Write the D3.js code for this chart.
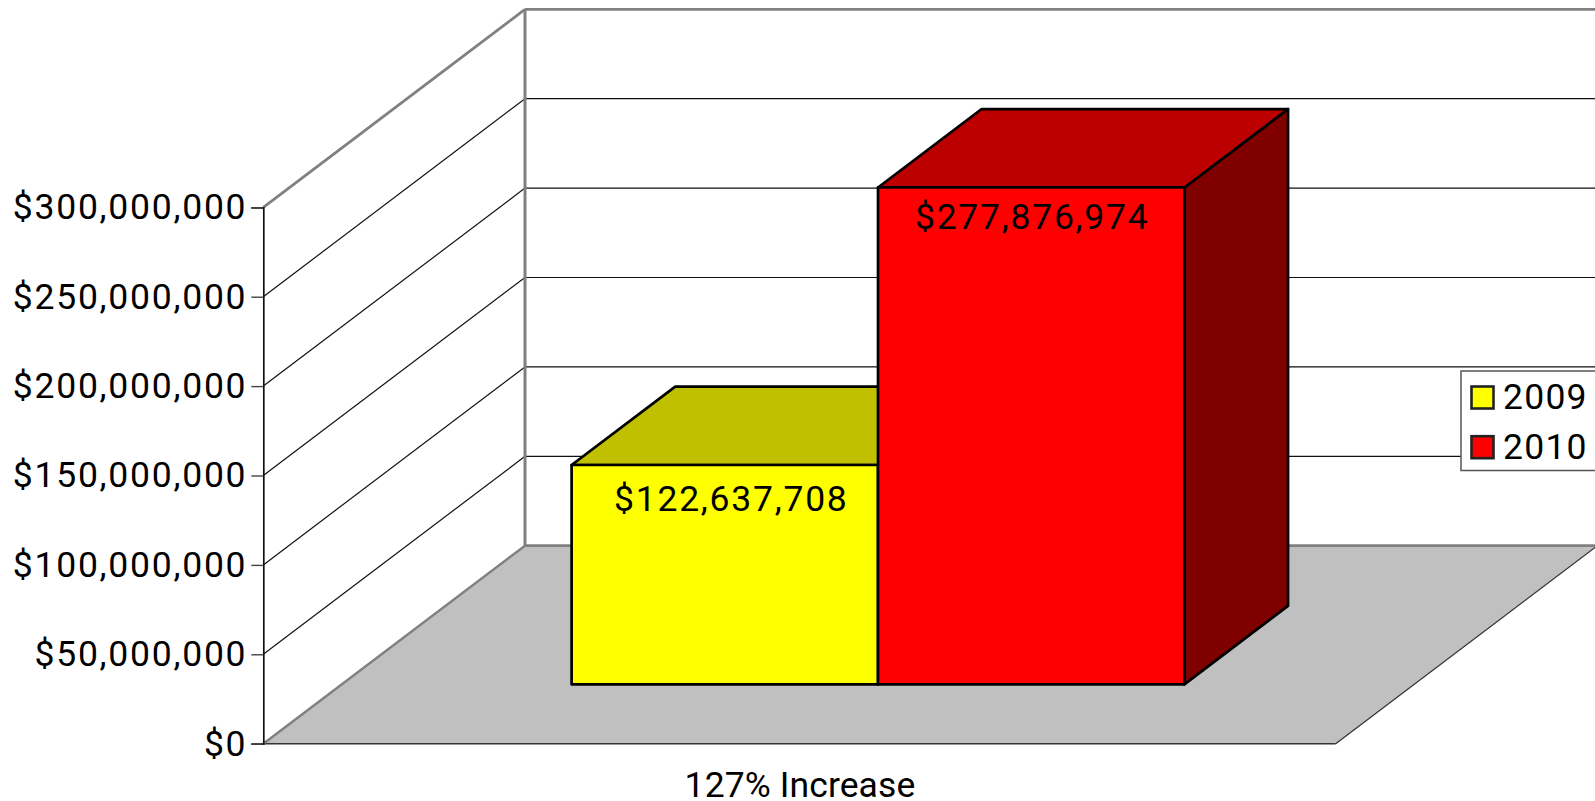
<!DOCTYPE html>
<html>
<head>
<meta charset="utf-8">
<script src="https://cdn.jsdelivr.net/npm/d3@7/dist/d3.min.js"></script>
<style>
html,body{margin:0;padding:0;background:#fff;overflow:hidden}
svg{display:block}
text{font-family:"Roboto",sans-serif;font-size:35.5px;fill:#000;letter-spacing:1.75px}
text.cat{letter-spacing:0.1px}
text.leg{letter-spacing:1.25px}
</style>
</head>
<body>
<script>
const categories = ["127% Increase"];
const seriesNames = ["2009", "2010"];
const seriesValues = [122637708, 277876974];
const valueLabels = ["$122,637,708", "$277,876,974"];
const axisTicks = [0, 50000000, 100000000, 150000000, 200000000, 250000000, 300000000];
const frontColors = ["#ffff00", "#ff0000"];
const topColors = ["#c0c000", "#bc0000"];
const sideColors = ["#808000", "#800000"];

const W = 1595, H = 801;
const x0 = 263.3, x1 = 1335.7;
const depthX = 261.7, depthY = -198;

const svg = d3.select("body").append("svg").attr("width", W).attr("height", H);
const y = d3.scaleLinear().domain([0, 300000000]).range([743.7, 207.3]);
const x = d3.scaleBand().domain(seriesNames).range([x0, x1]).paddingInner(0).paddingOuter(0.75);
const zx = d3.scaleLinear().domain([0, 1]).range([0, depthX]);
const zy = d3.scaleLinear().domain([0, 1]).range([0, depthY]);
const P = (px, v, t) => [px + zx(t), y(v) + zy(t)];
const poly = pts => d3.line()(pts) + "Z";
const maxV = axisTicks[axisTicks.length - 1];

function seg(sel){
  sel.attr("x1",d=>d[0][0]).attr("y1",d=>d[0][1]).attr("x2",d=>d[1][0]).attr("y2",d=>d[1][1]);
}

// floor
svg.append("path")
  .attr("d", poly([P(x0,0,0), P(x1,0,0), P(x1,0,1), P(x0,0,1)]))
  .attr("fill", "#c0c0c0");
svg.append("line").datum([P(x0,0,0), P(x1,0,0)]).call(seg).attr("stroke","#333").attr("stroke-width",1.5);
svg.append("line").datum([P(x1,0,0), P(x1,0,1)]).call(seg).attr("stroke","#333").attr("stroke-width",1.3);
svg.append("line").datum([P(x0,0,0), P(x0,0,1)]).call(seg).attr("stroke","#808080").attr("stroke-width",2.4);
svg.append("line").datum([P(x0,0,1), P(x1,0,1)]).call(seg).attr("stroke","#808080").attr("stroke-width",2.8);

// grid on side wall and back wall
axisTicks.filter(v => v > 0).forEach(v => {
  const top = v === maxV;
  const col = top ? "#808080" : "#111";
  svg.append("line").datum([P(x0,v,0), P(x0,v,1)]).call(seg).attr("stroke",col).attr("stroke-width",top?2.8:1.2);
  svg.append("line").datum([P(x0,v,1), P(x1,v,1)]).call(seg).attr("stroke",col).attr("stroke-width",top?2.8:1.2);
});
svg.append("line").datum([P(x0,0,1), P(x0,maxV,1)]).call(seg).attr("stroke","#808080").attr("stroke-width",3);

// value axis
const axis = d3.axisLeft(y).tickValues(axisTicks).tickSize(12).tickPadding(4)
  .tickFormat(v => "$" + d3.format(",")(v));
const ag = svg.append("g").attr("transform", `translate(${x0},0)`).call(axis);
ag.select(".domain").attr("stroke","#111").attr("stroke-width",1.7);
ag.selectAll(".tick line").attr("stroke","#444").attr("stroke-width",1.4);
ag.attr("font-family",null).attr("font-size",null);

// bars
const tF = 0.3, tB = 0.696;
seriesNames.forEach((s, i) => {
  const a = x(s), b = a + x.bandwidth(), v = seriesValues[i];
  const g = svg.append("g").attr("stroke","#000").attr("stroke-width",2.7).attr("stroke-linejoin","round");
  g.append("path").attr("fill", sideColors[i])
    .attr("d", poly([P(b,v,tF), P(b,v,tB), P(b,0,tB), P(b,0,tF)]));
  g.append("path").attr("fill", topColors[i])
    .attr("d", poly([P(a,v,tF), P(b,v,tF), P(b,v,tB), P(a,v,tB)]));
  g.append("path").attr("fill", frontColors[i])
    .attr("d", poly([P(a,v,tF), P(b,v,tF), P(b,0,tF), P(a,0,tF)]));
});

// value labels
const labelDx = [6.5, 1], labelDy = [46, 41.5];
seriesNames.forEach((s, i) => {
  const p = P(x(s) + x.bandwidth()/2, seriesValues[i], tF);
  svg.append("text").attr("x", p[0] + labelDx[i]).attr("y", p[1] + labelDy[i])
    .attr("text-anchor","middle").text(valueLabels[i]);
});

// category label
svg.append("text").attr("class","cat").attr("x", (x0 + x1)/2 + 0.5).attr("y", 796.5)
  .attr("text-anchor","middle").text(categories[0]);

// legend
const lg = svg.append("g");
lg.append("rect").attr("x",1461).attr("y",371).attr("width",150).attr("height",99.5)
  .attr("fill","#fff").attr("stroke","#555").attr("stroke-width",1.5);
seriesNames.forEach((s, i) => {
  const top = 386.5 + i*49.7;
  lg.append("rect").attr("x",1471.5).attr("y",top).attr("width",22).attr("height",22)
    .attr("fill",frontColors[i]).attr("stroke","#222").attr("stroke-width",2.6);
  lg.append("text").attr("class","leg").attr("x",1503).attr("y",top + 22.5).text(s);
});
</script>
</body>
</html>
